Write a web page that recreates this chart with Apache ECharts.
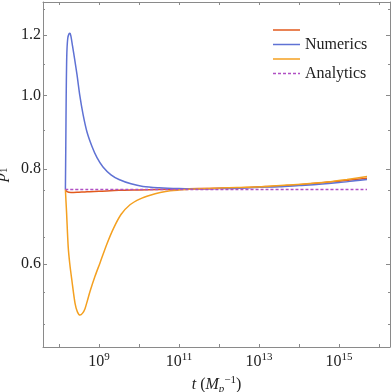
<!DOCTYPE html>
<html>
<head>
<meta charset="utf-8">
<script src="https://cdn.jsdelivr.net/npm/echarts@6/dist/echarts.min.js"></script>
<style>
  html, body { margin: 0; padding: 0; background: #fff; }
  #main { width: 392px; height: 392px; }
</style>
</head>
<body>
<div id="main"></div>
<script>
// x values are log10(t), y values are p1 (drawn on a log scale)
var redLogT = [8.16, 8.2, 8.3, 8.45, 8.7, 9.0, 9.5, 10, 10.5, 11, 11.5, 12, 12.5, 13, 13.5, 14, 14.5, 15, 15.4, 15.7];
var redP = [0.752, 0.747, 0.745, 0.7455, 0.747, 0.748, 0.75, 0.751, 0.752, 0.753, 0.754, 0.755, 0.756, 0.758, 0.76, 0.763, 0.767, 0.771, 0.775, 0.778];

var blueLogT = [8.16, 8.17, 8.18, 8.19, 8.2, 8.22, 8.25, 8.275, 8.3, 8.34, 8.39, 8.45, 8.52, 8.6, 8.7, 8.82, 8.95, 9.1, 9.3, 9.5, 9.8, 10.1, 10.5, 11, 11.5, 12, 12.5, 13, 13.5, 14, 14.5, 15, 15.4, 15.7];
var blueP = [0.752, 0.86, 1.0, 1.1, 1.15, 1.19, 1.205, 1.207, 1.195, 1.16, 1.117, 1.065, 1.0, 0.945, 0.895, 0.858, 0.828, 0.805, 0.786, 0.775, 0.765, 0.759, 0.756, 0.754, 0.753, 0.754, 0.755, 0.757, 0.758, 0.761, 0.764, 0.768, 0.772, 0.775];

var orangeLogT = [8.16, 8.175, 8.19, 8.23, 8.27, 8.32, 8.4, 8.46, 8.525, 8.59, 8.65, 8.71, 8.775, 8.9, 9.025, 9.2, 9.36, 9.55, 9.775, 10.03, 10.28, 10.53, 10.78, 11.2, 11.7, 12.2, 12.7, 13.2, 13.7, 14.2, 14.7, 15.2, 15.7];
var orangeP = [0.752, 0.725, 0.7, 0.632, 0.6, 0.572, 0.533, 0.519, 0.514, 0.517, 0.524, 0.537, 0.552, 0.578, 0.602, 0.638, 0.668, 0.697, 0.718, 0.731, 0.739, 0.745, 0.749, 0.752, 0.754, 0.756, 0.757, 0.759, 0.762, 0.765, 0.769, 0.775, 0.782];

var analyticsLogT = [8.16, 15.7];
var analyticsP = [0.752, 0.752];

var xMajor = [9, 11, 13, 15];
var xMinor = [8, 10, 12, 14, 16];
var yMajor = [0.6, 0.8, 1.0, 1.2];
var yMinor = [0.5, 0.55, 0.65, 0.75, 0.9, 1.1, 1.3];

var serif = "'Liberation Serif', 'DejaVu Serif', serif";
var frame = "#8a8a8a";
var solidIcon = "path://M0,0H27V1.5H0Z";
var dashIcon = "path://M0,0H3V1.5H0Z M5,0H8V1.5H5Z M10,0H13V1.5H10Z M15,0H18V1.5H15Z M20,0H23V1.5H20Z M25,0H27V1.5H25Z";

function pairs(lt, p) {
  return lt.map(function (v, i) { return [v, Math.log(p[i])]; });
}
function lnList(a) {
  return a.map(function (v) { return Math.log(v); });
}

var xMin = 7.6, xMax = 16.275;
var yMin = -0.7624, yMax = 0.2831;

function xAxisOf(pos, withLabels) {
  var ax = {
    type: "value", position: pos, min: xMin, max: xMax,
    axisLine: { onZero: false, lineStyle: { color: frame, width: 1 } },
    axisTick: { inside: true, length: 3, customValues: xMajor.concat(xMinor), lineStyle: { color: frame } },
    axisLabel: { show: false },
    splitLine: { show: false }
  };
  if (withLabels) {
    ax.axisLabel = {
      customValues: xMajor,
      margin: 5,
      formatter: function (v) { return "{b|10}{s|" + Math.round(v) + "}"; },
      rich: {
        b: { fontFamily: serif, fontSize: 16, color: "#222", lineHeight: 20 },
        s: { fontFamily: serif, fontSize: 11, color: "#222", lineHeight: 11, verticalAlign: "top" }
      }
    };
    ax.name = "{i|t} ({i|M}{sub|p}{sup|\u22121})";
    ax.nameLocation = "middle";
    ax.nameGap = 25;
    ax.nameTextStyle = {
      fontFamily: serif, fontSize: 16, color: "#222",
      rich: {
        i: { fontFamily: serif, fontStyle: "italic", fontSize: 16, color: "#222", lineHeight: 20 },
        sub: { fontFamily: serif, fontStyle: "italic", fontSize: 11, color: "#222", lineHeight: 11, verticalAlign: "bottom" },
        sup: { fontFamily: serif, fontSize: 11, color: "#222", lineHeight: 11, verticalAlign: "top" }
      }
    };
  }
  return ax;
}

function yAxisOf(pos, ticks, len, withLine, withLabels) {
  var ax = {
    type: "value", position: pos, min: yMin, max: yMax,
    axisLine: { show: withLine, onZero: false, lineStyle: { color: frame, width: 1 } },
    axisTick: { inside: true, length: len, customValues: lnList(ticks), lineStyle: { color: frame } },
    axisLabel: { show: false },
    splitLine: { show: false }
  };
  if (withLabels) {
    ax.axisLabel = {
      customValues: lnList(yMajor),
      margin: 2,
      fontFamily: serif, fontSize: 16, color: "#222",
      formatter: function (v) { return Math.exp(v).toFixed(1); }
    };
    ax.name = "{i|p}{s|1}";
    ax.nameLocation = "middle";
    ax.nameGap = 31;
    ax.nameTextStyle = {
      rich: {
        i: { fontFamily: serif, fontStyle: "italic", fontSize: 17, color: "#222", lineHeight: 20 },
        s: { fontFamily: serif, fontSize: 11, color: "#222", lineHeight: 11, verticalAlign: "bottom" }
      }
    };
  }
  return ax;
}

function lineSeries(name, lt, p, color, dashed) {
  return {
    name: name, type: "line", symbol: "none", smooth: 0.3,
    data: pairs(lt, p),
    itemStyle: { color: color },
    lineStyle: { color: color, width: 1.5, type: dashed ? [3, 2] : "solid" }
  };
}

var chart = echarts.init(document.getElementById("main"));
chart.setOption({
  animation: false,
  backgroundColor: "#fff",
  grid: { left: 43, right: 2, top: 2, bottom: 45, containLabel: false, outerBoundsMode: "none" },
  legend: {
    orient: "vertical", left: 273, top: 22, padding: 0,
    itemWidth: 27, itemHeight: 14, itemGap: -1.5,
    textStyle: { fontFamily: serif, fontSize: 16, color: "#222" },
    data: [
      { name: "\u2002", icon: solidIcon },
      { name: "Numerics", icon: solidIcon },
      { name: "\u2003", icon: solidIcon },
      { name: "Analytics", icon: dashIcon }
    ]
  },
  xAxis: [xAxisOf("bottom", true), xAxisOf("top", false)],
  yAxis: [
    yAxisOf("left", yMajor, 4, true, true),
    yAxisOf("left", yMinor, 2, false, false),
    yAxisOf("right", yMajor, 4, true, false),
    yAxisOf("right", yMinor, 2, false, false)
  ],
  series: [
    lineSeries("\u2002", redLogT, redP, "#e25a1c", false),
    lineSeries("Numerics", blueLogT, blueP, "#5f72d4", false),
    lineSeries("\u2003", orangeLogT, orangeP, "#f4a020", false),
    lineSeries("Analytics", analyticsLogT, analyticsP, "#b050c4", true)
  ]
});
</script>
</body>
</html>
